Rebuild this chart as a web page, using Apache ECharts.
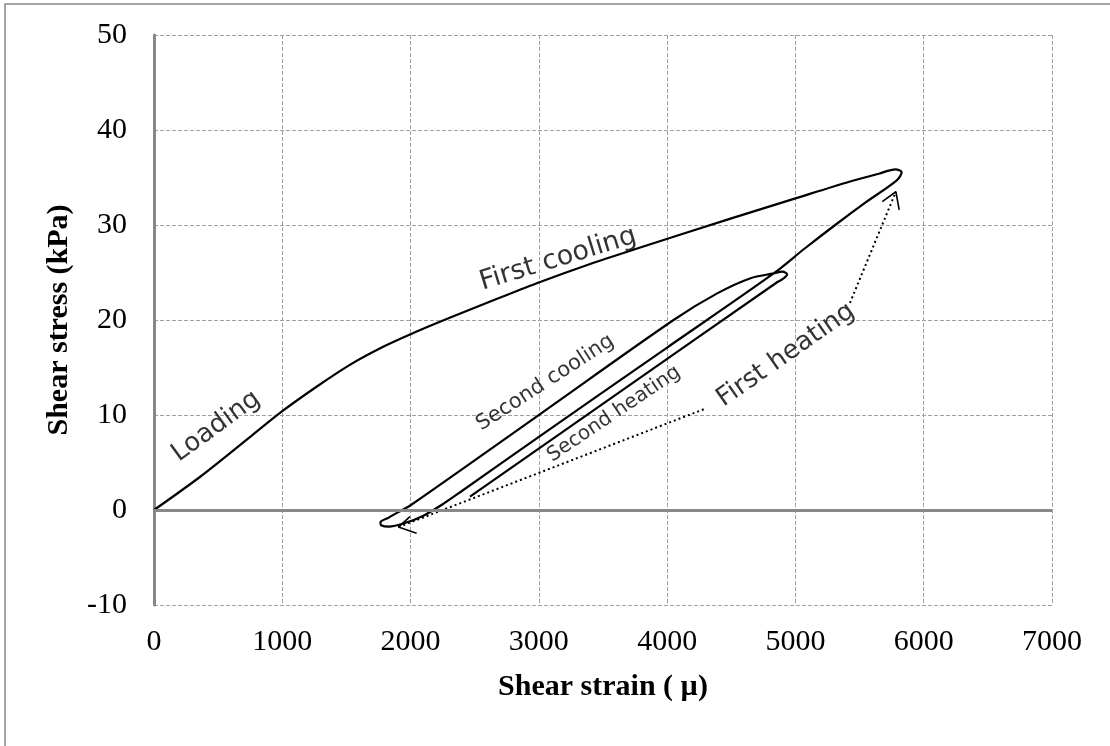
<!DOCTYPE html>
<html>
<head>
<meta charset="UTF-8">
<title>Shear stress - shear strain</title>
<style>
  html, body { margin: 0; padding: 0; background: #fff; }
  #container { width: 1110px; height: 746px; }
</style>
</head>
<body>
<div id="container"></div>
<script src="https://cdn.jsdelivr.net/npm/echarts@6.0.0/dist/echarts.min.js"></script>
<script>
// curve branches, [shear strain (µ), shear stress (kPa)]
var loading = [[0, 0], [360, 3.5], [750, 7.7], [1000, 10.4], [1270, 13.0], [1530, 15.3], [1790, 17.2], [2000, 18.5]];
var firstCooling = [[2300, 20.2], [2670, 22.2], [3010, 24.0], [3400, 25.9], [3760, 27.5], [4500, 30.7], [5000, 32.8], [5420, 34.55], [5650, 35.4], [5780, 35.85], [5828, 35.55]];
var firstHeating = [[5790, 34.7], [5550, 32.4], [5310, 30.0], [5070, 27.5], [4830, 24.9], [4000, 17.1], [3000, 7.7], [2400, 2.0], [2250, 0.6], [2100, -0.6], [1950, -1.4], [1830, -1.75], [1770, -1.6]];
var secondCooling = [[1765, -1.3], [1830, -0.8], [1900, -0.25], [2000, 0.5], [3010, 10.1], [4050, 20.0], [4390, 22.8], [4650, 24.4], [4830, 24.9], [4900, 25.1], [4935, 24.8]];
var secondHeating = [[4900, 24.3], [4860, 24.0], [3660, 12.7], [2463, 1.4]];

// dotted "first heating" pointers and their open arrow heads
var pointerLow = [[4285, 10.6], [1905, -1.8]];
var headLow = [[1995, -0.7], [1905, -1.8], [2047, -2.45]];
var pointerHigh = [[5425, 21.8], [5783, 33.5]];
var headHigh = [[5677, 32.45], [5783, 33.5], [5809, 31.6]];

// labels on the curve
var noteNames = ['Loading', 'First cooling', 'Second cooling', 'Second heating', 'First heating'];
var notePoints = [[485, 8.8], [3150, 26.4], [3050, 13.4], [3585, 10.1], [4926, 16.3]];
var noteAngles = [36, 17, 33, 34, 35];
var noteSizes = [26, 27, 21, 20, 26];

var xTicks = [0, 7000, 1000];   // min, max, step
var yTicks = [-10, 50, 10];

var curve = [].concat(loading, firstCooling, firstHeating, secondCooling, secondHeating);

var myChart = echarts.init(document.getElementById('container'));

var serif = 'Liberation Serif, Times New Roman, serif';
var black = '#000';

function pointer(data, dotted) {
  return {
    type: 'line',
    data: data,
    symbol: 'none',
    silent: true,
    z: 3,
    lineStyle: { color: black, width: dotted ? 2 : 1.6, type: dotted ? [2, 3] : 'solid' }
  };
}

var notes = noteNames.map(function (n, i) {
  return {
    name: n,
    value: notePoints[i],
    label: { rotate: noteAngles[i], fontSize: noteSizes[i] }
  };
});

var option = {
  animation: false,
  backgroundColor: '#fff',
  graphic: [{
    type: 'rect',
    silent: true,
    shape: { x: 5, y: 4, width: 1300, height: 900 },
    style: { fill: 'none', stroke: '#888', lineWidth: 1.5 }
  }],
  grid: { left: 154, right: 58, top: 35, bottom: 141 },
  xAxis: {
    type: 'value',
    min: xTicks[0], max: xTicks[1], interval: xTicks[2],
    name: 'Shear strain ( µ)',
    nameLocation: 'middle',
    nameGap: 67,
    nameTextStyle: { fontFamily: serif, fontWeight: 'bold', fontSize: 30, color: black },
    axisLine: { show: false },
    axisTick: { show: false },
    axisLabel: { fontFamily: serif, fontSize: 30, color: black, margin: 22, formatter: function (v) { return String(v); } },
    splitLine: { show: true, lineStyle: { color: '#a0a0a0', width: 1, type: [4, 2] } }
  },
  yAxis: {
    type: 'value',
    min: yTicks[0], max: yTicks[1], interval: yTicks[2],
    name: 'Shear stress (kPa)',
    nameLocation: 'middle',
    nameGap: 80,
    nameTextStyle: { fontFamily: serif, fontWeight: 'bold', fontSize: 30, color: black },
    axisLine: { show: true, lineStyle: { color: '#888', width: 3 } },
    axisTick: { show: false },
    axisLabel: { fontFamily: serif, fontSize: 30, color: black, margin: 27, formatter: function (v) { return String(v); } },
    splitLine: { show: true, lineStyle: { color: '#a0a0a0', width: 1, type: [4, 2] } }
  },
  series: [
    {
      type: 'line',
      data: curve,
      symbol: 'none',
      smooth: 0.3,
      z: 4,
      lineStyle: { color: black, width: 2.2 },
      markLine: {
        silent: true,
        symbol: 'none',
        label: { show: false },
        lineStyle: { color: '#888', width: 3, type: 'solid' },
        data: [{ yAxis: 0 }]
      }
    },
    pointer(pointerLow, true),
    pointer(headLow, false),
    pointer(pointerHigh, true),
    pointer(headHigh, false),
    {
      type: 'scatter',
      data: notes,
      symbolSize: 0,
      silent: true,
      z: 5,
      label: {
        show: true,
        position: 'inside',
        formatter: '{b}',
        fontFamily: 'DejaVu Sans, sans-serif',
        color: black
      }
    }
  ]
};

myChart.setOption(option);
</script>
</body>
</html>
